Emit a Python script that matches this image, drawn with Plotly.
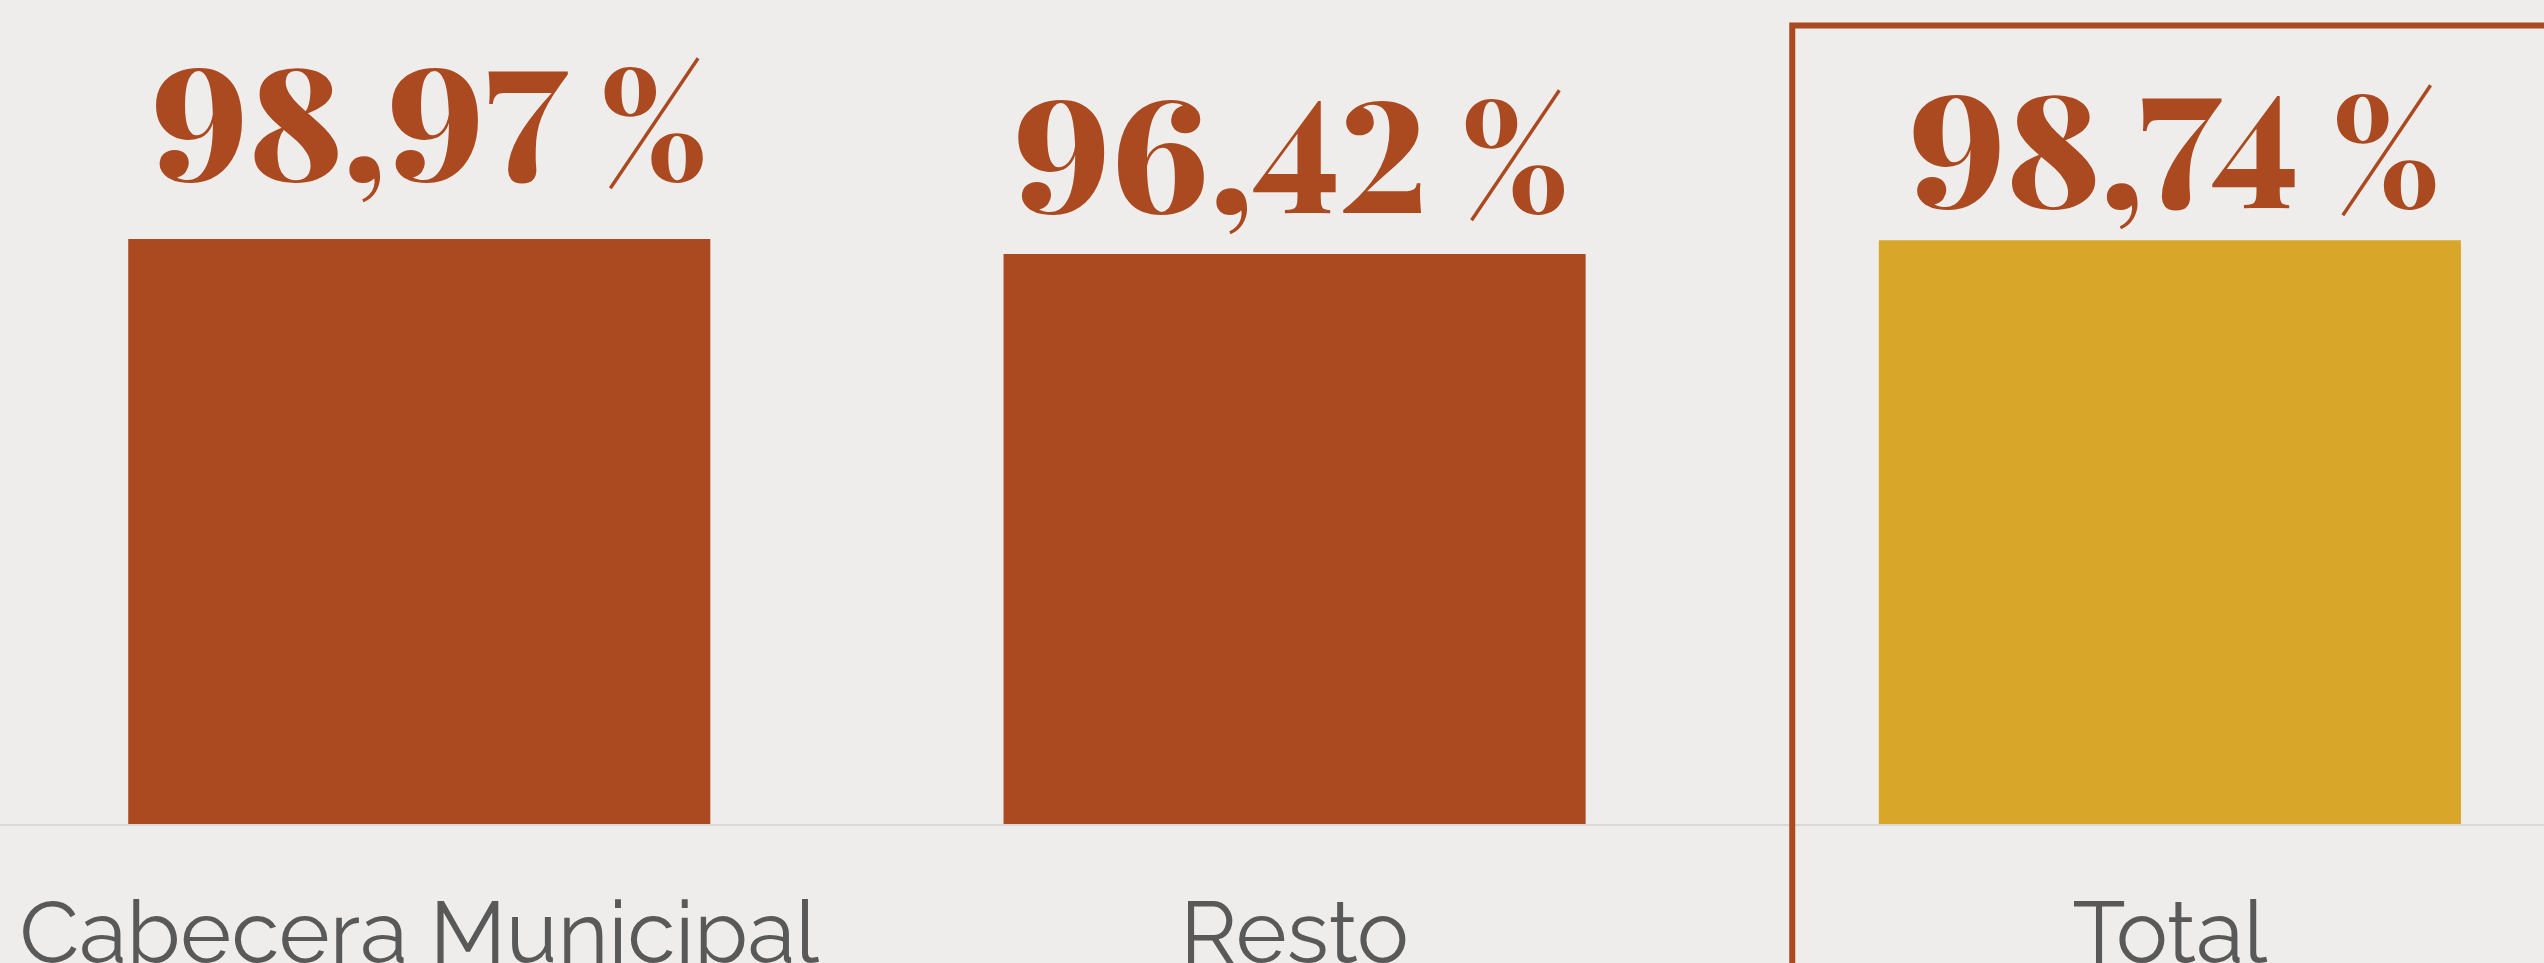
import plotly.graph_objects as go

categories = ["Cabecera Municipal", "Resto", "Total"]
values = [98.97, 96.42, 98.74]
value_texts = ["98,97", "96,42", "98,74"]
bar_colors = ["#AB4A20", "#AB4A20", "#D8A72A"]

RUST = "#AB4A20"
BG = "#EEEDEB"
label_yshift = [17, 0, -9]
label_xshift = [10, -4, 4]

fig = go.Figure()
fig.add_trace(go.Bar(
    x=categories, y=values, marker=dict(color=bar_colors, line=dict(width=0)),
    width=0.665, hoverinfo="skip",
))

for c, v, t, dy, dx in zip(categories, values, value_texts, label_yshift, label_xshift):
    fig.add_annotation(
        x=c, y=v, text=t + "<span style=\"font-size:150px\"> %</span>",
        showarrow=False, yanchor="bottom", xanchor="center",
        yshift=dy, xshift=dx,
        font=dict(family="Playfair Display, Liberation Serif, serif", size=155,
                  color=RUST, weight=900),
    )

# highlight frame around the Total column
fig.add_shape(type="rect", xref="paper", yref="paper",
              x0=0.7045, x1=1.05, y0=-0.5, y1=0.969,
              line=dict(color=RUST, width=6), fillcolor="rgba(0,0,0,0)", layer="above")

fig.update_layout(
    width=2544, height=963,
    paper_bgcolor=BG, plot_bgcolor=BG,
    margin=dict(l=0, r=0, t=0, b=139),
    showlegend=False,
    bargap=0.33,
)
fig.update_xaxes(
    type="category", range=[-0.479, 2.4274], automargin=False,
    showline=True, linecolor="#D9D8D6", linewidth=2,
    showgrid=False, ticks="", ticklabelstandoff=33,
    tickfont=dict(family="Raleway, Lato, sans-serif", size=87, color="#595959", weight=400),
)
fig.update_yaxes(range=[0, 139.4], visible=False, showgrid=False, zeroline=False,
                 automargin=False)

post = (
    "document.body.style.margin='0';document.body.style.overflow='hidden';"
    "var s=document.createElement('style');"
    "s.textContent='.annotation-text{font-variant-numeric:lining-nums;font-feature-settings:\"lnum\" 1;}';"
    "document.head.appendChild(s);"
)
fig.write_html("out.html", config={"displayModeBar": False}, post_script=post)
